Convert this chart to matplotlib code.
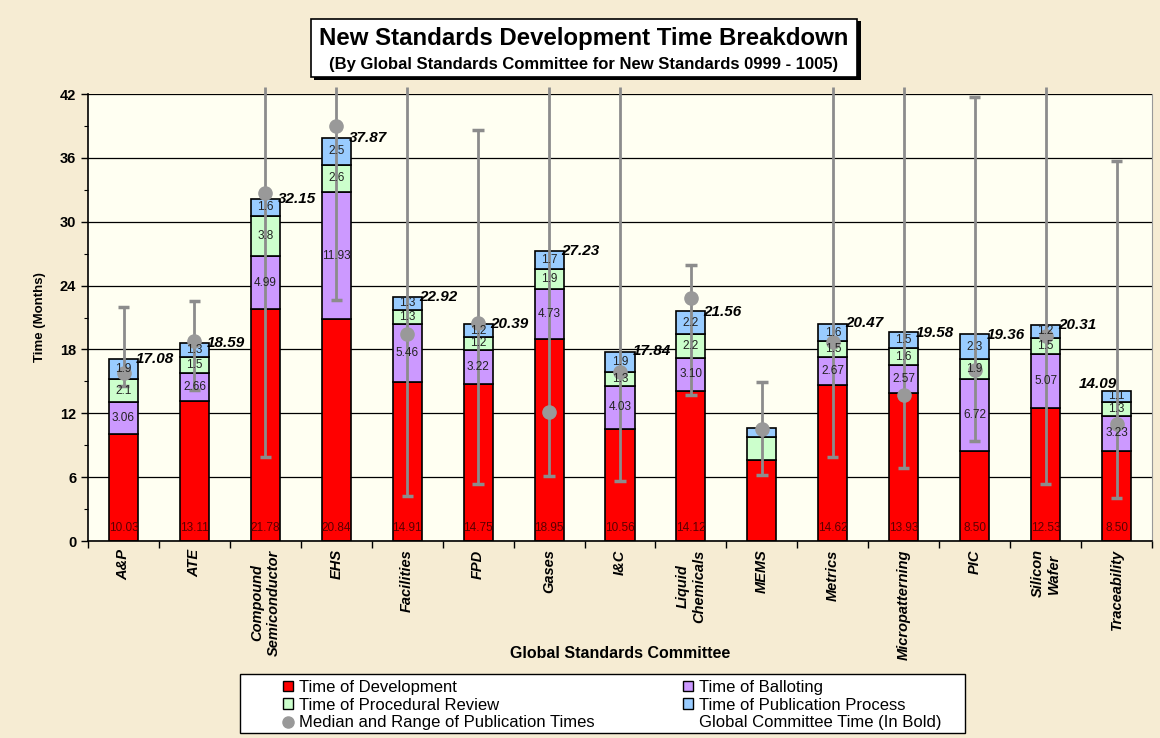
import numpy as np
import matplotlib
matplotlib.use('Agg')
import matplotlib.pyplot as plt
from matplotlib.patches import Patch, Rectangle
from matplotlib.lines import Line2D

plt.rcParams['font.family'] = ['Liberation Sans', 'DejaVu Sans']

# committees on the x axis
committees = ['A&P', 'ATE', 'Compound\nSemiconductor', 'EHS', 'Facilities', 'FPD',
              'Gases', 'I&C', 'Liquid\nChemicals', 'MEMS', 'Metrics',
              'Micropatterning', 'PIC', 'Silicon\nWafer', 'Traceability']

# stacked segments (months)
dev_time = [10.03, 13.11, 21.78, 20.84, 14.91, 14.75, 18.95, 10.56, 14.12, 7.6, 14.62, 13.93, 8.50, 12.53, 8.50]
ballot_time = [3.06, 2.66, 4.99, 11.93, 5.46, 3.22, 4.73, 4.03, 3.10, 0.0, 2.67, 2.57, 6.72, 5.07, 3.23]
review_time = [2.1, 1.5, 3.8, 2.6, 1.3, 1.2, 1.9, 1.3, 2.2, 2.2, 1.5, 1.6, 1.9, 1.5, 1.3]
pub_time = [1.9, 1.3, 1.6, 2.5, 1.3, 1.2, 1.7, 1.9, 2.2, 0.8, 1.6, 1.5, 2.3, 1.2, 1.1]

# committee totals (bold labels); MEMS has none
totals = [17.08, 18.59, 32.15, 37.87, 22.92, 20.39, 27.23, 17.84, 21.56, None, 20.47, 19.58, 19.36, 20.31, 14.09]
show_segment_labels = [True] * 9 + [False] + [True] * 5

# median and range of publication times (inf = goes off the top of the chart)
median_pub = [15.8, 18.8, 32.7, 39.0, 19.45, 20.5, 12.1, 15.9, 22.8, 10.55, 18.7, 13.75, 16.1, 19.3, 11.0]
range_low = [14.6, 14.2, 7.9, 22.6, 4.2, 5.35, 6.1, 5.6, 13.7, 6.2, 7.9, 6.9, 9.4, 5.35, 4.0]
range_high = [22.0, 22.55, np.inf, np.inf, np.inf, 38.6, np.inf, np.inf, 25.9, 14.9, np.inf, np.inf, 41.7, np.inf, 35.7]

dev_labels = ['10.03', '13.11', '21.78', '20.84', '14.91', '14.75', '18.95', '10.56', '14.12', '', '14.62', '13.93', '8.50', '12.53', '8.50']
ballot_labels = ['3.06', '2.66', '4.99', '11.93', '5.46', '3.22', '4.73', '4.03', '3.10', '', '2.67', '2.57', '6.72', '5.07', '3.23']
review_labels = ['2.1', '1.5', '3.8', '2.6', '1.3', '1.2', '1.9', '1.3', '2.2', '', '1.5', '1.6', '1.9', '1.5', '1.3']
pub_labels = ['1.9', '1.3', '1.6', '2.5', '1.3', '1.2', '1.7', '1.9', '2.2', '', '1.6', '1.5', '2.3', '1.2', '1.1']

col_dev = '#ff0000'
col_ballot = '#cc99ff'
col_review = '#ccffcc'
col_pub = '#99ccff'
col_gray = '#8c8c8c'

fig = plt.figure(figsize=(11.6, 7.38), dpi=100)
fig.patch.set_facecolor('#f6ecd3')
ax = fig.add_axes([0.0759, 0.2669, 0.9172, 0.6057])
ax.set_facecolor('#fffff2')

x = np.arange(len(committees))
w = 0.41
dev = np.array(dev_time)
bal = np.array(ballot_time)
rev = np.array(review_time)
pub = np.array(pub_time)

ax.bar(x, dev, w, color=col_dev, edgecolor='black', linewidth=1.2, zorder=2)
ax.bar(x, bal, w, bottom=dev, color=col_ballot, edgecolor='black', linewidth=1.2, zorder=2)
ax.bar(x, rev, w, bottom=dev + bal, color=col_review, edgecolor='black', linewidth=1.2, zorder=2)
ax.bar(x, pub, w, bottom=dev + bal + rev, color=col_pub, edgecolor='black', linewidth=1.2, zorder=2)

for i in x:
    if not show_segment_labels[i]:
        continue
    ax.text(i, 1.25, dev_labels[i], ha='center', va='center', fontsize=8.5, color='#5a0000', zorder=5)
    ax.text(i, dev[i] + bal[i] / 2, ballot_labels[i], ha='center', va='center', fontsize=8.5, color='#222222', zorder=5)
    ax.text(i, dev[i] + bal[i] + rev[i] / 2, review_labels[i], ha='center', va='center', fontsize=8.5, color='#222222', zorder=5)
    ax.text(i, dev[i] + bal[i] + rev[i] + pub[i] / 2, pub_labels[i], ha='center', va='center', fontsize=8.5, color='#222222', zorder=5)

# range lines and medians
ymax = 42
hi = np.array(range_high)
ax.vlines(x, range_low, np.minimum(hi, ymax + 0.65), color=col_gray, linewidth=2, zorder=4, clip_on=False)
ax.hlines(range_low, x - 0.08, x + 0.08, color=col_gray, linewidth=2.5, zorder=4)
fin = np.isfinite(hi)
ax.hlines(hi[fin], x[fin] - 0.08, x[fin] + 0.08, color=col_gray, linewidth=2.5, zorder=4)
ax.plot(x, median_pub, 'o', color='#999999', markersize=9.5, zorder=4)

# totals
for i in x:
    if totals[i] is None:
        continue
    if i == len(x) - 1:
        ax.text(i, totals[i] + 0.65, f'{totals[i]:.2f}', ha='right', va='center', fontsize=11,
                fontweight='bold', style='italic', zorder=6)
    else:
        ax.text(i + w / 2 - 0.03, totals[i], f'{totals[i]:.2f}', ha='left', va='center', fontsize=11,
                fontweight='bold', style='italic', zorder=6)

ax.set_xlim(-0.5, len(x) - 0.5)
ax.set_ylim(0, ymax)
ax.set_yticks(np.arange(0, 43, 6))
ax.set_yticks(np.arange(0, 43, 3), minor=True)
ax.yaxis.grid(True, color='black', linewidth=0.9, zorder=0)
ax.set_axisbelow(True)
ax.tick_params(axis='y', which='major', length=5, labelsize=10.5, width=1)
ax.tick_params(axis='y', which='minor', length=3, width=0.8)
for lab in ax.get_yticklabels():
    lab.set_fontweight('bold')

ax.set_xticks(x)
ax.set_xticks(np.arange(-0.5, len(x), 1), minor=True)
ax.set_xticklabels(committees, rotation=90, fontsize=10.5, fontweight='bold', style='italic',
                   va='top', ha='center', multialignment='center')
ax.tick_params(axis='x', which='major', length=0, pad=6)
ax.tick_params(axis='x', which='minor', length=5, width=1)

ax.spines['top'].set_visible(False)
ax.spines['right'].set_color('#999999')
ax.spines['left'].set_linewidth(1.2)
ax.spines['bottom'].set_linewidth(1.2)

ax.set_ylabel('Time (Months)', fontsize=9.5, fontweight='bold', labelpad=10)
fig.text(0.535, 0.115, 'Global Standards Committee', ha='center', va='center', fontsize=11.5, fontweight='bold')

# title box with shadow
fig.patches.append(Rectangle((0.271, 0.892), 0.471, 0.079, transform=fig.transFigure,
                             facecolor='black', edgecolor='none', zorder=1))
fig.patches.append(Rectangle((0.268, 0.895), 0.471, 0.079, transform=fig.transFigure,
                             facecolor='white', edgecolor='black', linewidth=1.2, zorder=2))
fig.text(0.5035, 0.948, 'New Standards Development Time Breakdown', ha='center', va='center',
         fontsize=17.3, fontweight='bold', zorder=3)
fig.text(0.5035, 0.913, '(By Global Standards Committee for New Standards 0999 - 1005)', ha='center',
         va='center', fontsize=12, fontweight='bold', zorder=3)

# legend box drawn separately so the entries can sit inset like the original
fig.patches.append(Rectangle((0.2069, 0.0068), 0.625, 0.080, transform=fig.transFigure,
                             facecolor='white', edgecolor='black', linewidth=1.0, zorder=1))
handles = [
    Patch(facecolor=col_dev, edgecolor='black'),
    Patch(facecolor=col_review, edgecolor='black'),
    Line2D([], [], marker='o', linestyle='none', color='#999999', markersize=8),
    Patch(facecolor=col_ballot, edgecolor='black'),
    Patch(facecolor=col_pub, edgecolor='black'),
    Line2D([], [], linestyle='none'),
]
labels = ['Time of Development', 'Time of Procedural Review', 'Median and Range of Publication Times',
          'Time of Balloting', 'Time of Publication Process', 'Global Committee Time (In Bold)']
leg = fig.legend(handles, labels, ncol=2, loc='center left', bbox_to_anchor=(0.2440, 0.0447),
                 fontsize=12, frameon=False, handlelength=0.6, handleheight=0.6,
                 handletextpad=0.36, columnspacing=5.3, labelspacing=0.16,
                 borderpad=0, borderaxespad=0)

fig.savefig('out.png', dpi=100, facecolor=fig.get_facecolor())
